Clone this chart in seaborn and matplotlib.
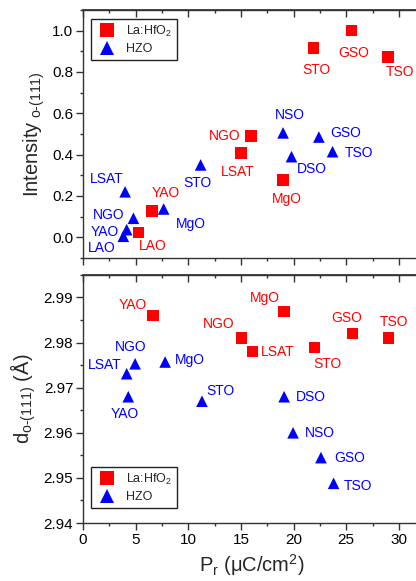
import matplotlib
matplotlib.use("Agg")
import matplotlib.pyplot as plt
import seaborn as sns
import pandas as pd
from matplotlib.ticker import MultipleLocator

sns.set_theme(style="ticks")
plt.rcParams['font.family'] = ['Liberation Sans', 'DejaVu Sans']
plt.rcParams['mathtext.fontset'] = 'custom'
plt.rcParams['mathtext.rm'] = 'Liberation Sans'
plt.rcParams['mathtext.it'] = 'Liberation Sans:italic'
plt.rcParams['mathtext.bf'] = 'Liberation Sans:bold'

# ---------------- data ----------------
# Top panel: Intensity o-(111) vs Pr
la_top_names = ["GSO", "STO", "TSO", "NGO", "LSAT", "MgO", "YAO", "LAO"]
la_top_pr = [25.5, 21.9, 28.95, 15.96, 15.0, 19.0, 6.54, 5.27]
la_top_int = [1.0, 0.915, 0.873, 0.49, 0.407, 0.277, 0.126, 0.024]

hzo_top_names = ["NSO", "DSO", "GSO", "TSO", "STO", "LSAT", "MgO", "NGO", "YAO", "LAO"]
hzo_top_pr = [19.0, 19.8, 22.4, 23.7, 11.17, 4.0, 7.66, 4.79, 4.15, 3.83]
hzo_top_int = [0.505, 0.39, 0.485, 0.414, 0.35, 0.22, 0.137, 0.092, 0.037, 0.005]

# Bottom panel: d o-(111) vs Pr
la_bot_names = ["YAO", "MgO", "NGO", "LSAT", "STO", "GSO", "TSO"]
la_bot_pr = [6.64, 19.09, 15.07, 16.1, 22.0, 25.6, 29.0]
la_bot_d = [2.986, 2.9869, 2.981, 2.978, 2.9789, 2.982, 2.981]

hzo_bot_names = ["NGO", "LSAT", "MgO", "YAO", "STO", "DSO", "NSO", "GSO", "TSO"]
hzo_bot_pr = [4.95, 4.15, 7.8, 4.3, 11.3, 19.1, 19.95, 22.6, 23.8]
hzo_bot_d = [2.9753, 2.9731, 2.9757, 2.968, 2.967, 2.968, 2.960, 2.9545, 2.9488]

series_labels = ["La:HfO$_2$", "HZO"]

# ---------------- label offsets (pixels) ----------------
la_top_off = [(2, -22), (3, -22), (12, -15), (-26, 0), (-3, -19), (4, -19), (14, 18), (14, -14)]
hzo_top_off = [(7, 18), (20, -12), (27, 4), (26, -1), (-3, -18), (-18, 13), (27, -15), (-25, 3), (-22, -2), (-22, -12)]
la_bot_off = [(-20, 11), (-19, 13), (-23, 14), (25, 0), (13, -16), (-6, 16), (6, 16)]
hzo_bot_off = [(-4, 17), (-22, 9), (25, 2), (-3, -17), (18, 10), (27, 0), (27, 0), (29, 0), (24, -3)]

RED = "#FF0000"
BLUE = "#0000FF"
palette = {series_labels[0]: RED, series_labels[1]: BLUE}
markers = {series_labels[0]: "s", series_labels[1]: "^"}

def make_df(pr_a, y_a, pr_b, y_b):
    return pd.DataFrame({
        "Pr": list(pr_a) + list(pr_b),
        "y": list(y_a) + list(y_b),
        "film": [series_labels[0]] * len(pr_a) + [series_labels[1]] * len(pr_b),
    })

fig = plt.figure(figsize=(4.16, 5.81), dpi=100)
W = 0.81
ax1 = fig.add_axes([0.1995, 0.556, W, 0.427])
ax2 = fig.add_axes([0.1995, 0.0998, W, 0.427])

df1 = make_df(la_top_pr, la_top_int, hzo_top_pr, hzo_top_int)
df2 = make_df(la_bot_pr, la_bot_d, hzo_bot_pr, hzo_bot_d)

for ax, df in [(ax1, df1), (ax2, df2)]:
    sns.scatterplot(data=df, x="Pr", y="y", hue="film", style="film",
                    palette=palette, markers=markers, s=70, linewidth=0,
                    ax=ax, legend=True, zorder=3)

def annotate(ax, names, xs, ys, offs, color):
    for n, x, y, (dx, dy) in zip(names, xs, ys, offs):
        ax.annotate(n, (x, y), xytext=(dx, dy), textcoords="offset pixels",
                    ha="center", va="center", color=color, fontsize=10)

annotate(ax1, la_top_names, la_top_pr, la_top_int, la_top_off, RED)
annotate(ax1, hzo_top_names, hzo_top_pr, hzo_top_int, hzo_top_off, BLUE)
annotate(ax2, la_bot_names, la_bot_pr, la_bot_d, la_bot_off, RED)
annotate(ax2, hzo_bot_names, hzo_bot_pr, hzo_bot_d, hzo_bot_off, BLUE)

ax1.set_xlim(0, 32)
ax2.set_xlim(0, 32)
ax1.set_ylim(-0.1, 1.1)
ax2.set_ylim(2.94, 2.995)

spine_color = "#333333"
for ax in (ax1, ax2):
    for sp in ax.spines.values():
        sp.set_visible(True)
        sp.set_color(spine_color)
        sp.set_linewidth(1.0)
    ax.xaxis.set_major_locator(MultipleLocator(5))
    ax.xaxis.set_minor_locator(MultipleLocator(2.5))
    ax.tick_params(axis="both", which="major", direction="out", length=5,
                   width=1, color=spine_color, labelsize=11, labelcolor="black", pad=2)
    ax.tick_params(axis="both", which="minor", direction="out", length=2.5,
                   width=1, color=spine_color)
    sec = ax.secondary_xaxis("top")
    sec.xaxis.set_major_locator(MultipleLocator(5))
    sec.xaxis.set_minor_locator(MultipleLocator(2.5))
    sec.tick_params(axis="x", which="major", direction="in", length=5, width=1,
                    color=spine_color, labeltop=False)
    sec.tick_params(axis="x", which="minor", direction="in", length=2.5, width=1,
                    color=spine_color)
    sec.spines["top"].set_color(spine_color)

ax1.yaxis.set_major_locator(MultipleLocator(0.2))
ax1.yaxis.set_minor_locator(MultipleLocator(0.1))
ax1.yaxis.set_major_formatter(matplotlib.ticker.FormatStrFormatter("%.1f"))
ax2.yaxis.set_major_locator(MultipleLocator(0.01))
ax2.yaxis.set_minor_locator(MultipleLocator(0.005))
ax2.yaxis.set_major_formatter(matplotlib.ticker.FormatStrFormatter("%.2f"))

ax1.tick_params(axis="x", labelbottom=False)
ax1.set_xlabel("")
ax1.set_ylabel(r"Intensity$_{\rm\ o\text{-}(111)}$", fontsize=14.5, labelpad=4)
ax2.set_ylabel(r"d$_{\rm o\text{-}(111)}$ (Å)", fontsize=14.5, labelpad=4)
ax2.set_xlabel(r"P$_{\rm r}$ (μC/cm$^2$)", fontsize=14.5, labelpad=4)

for ax, loc, anchor in [(ax1, "upper left", (0.005, 0.99)), (ax2, "lower left", (0.005, 0.035))]:
    h, l = ax.get_legend_handles_labels()
    leg = ax.legend(h, l, loc=loc, bbox_to_anchor=anchor, fontsize=9, frameon=True,
                    fancybox=False, edgecolor="#222222", framealpha=1,
                    handletextpad=0.6, borderpad=0.4, labelspacing=0.35,
                    handlelength=1.8, markerscale=1.15)
    leg.get_frame().set_linewidth(1.0)

fig.savefig("out.png", dpi=100)
